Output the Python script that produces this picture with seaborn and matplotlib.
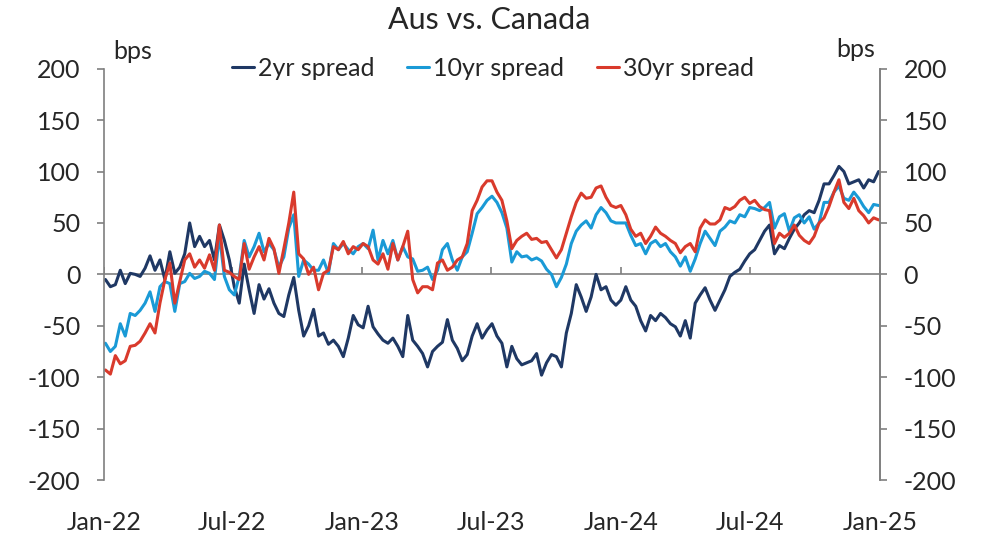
import matplotlib
matplotlib.use("Agg")
import matplotlib.pyplot as plt
import matplotlib.dates as mdates
import seaborn as sns
import pandas as pd

# weekly readings, bps (Aus minus Canada)
spread_2yr = [
    -5, -12, -10, 4, -9, 1, 0, -2, 6, 18, 4, 14, -5, 22, 1, 7, 20, 50, 27, 37,
    27, 33, 14, 48, 33, 14, -12, -28, 10, -15, -38, -10, -24, -14, -28, -38, -41, -20, -3, -35,
    -60, -50, -34, -60, -57, -68, -64, -70, -80, -62, -40, -49, -52, -31, -51, -58, -64, -67, -62, -70,
    -80, -40, -64, -70, -77, -90, -75, -70, -66, -44, -64, -72, -84, -78, -60, -48, -62, -54, -48, -60,
    -67, -90, -70, -82, -88, -86, -84, -77, -98, -86, -78, -80, -90, -57, -38, -10, -22, -36, -22, 0,
    -15, -12, -25, -30, -25, -12, -25, -31, -45, -55, -40, -45, -38, -42, -48, -51, -60, -45, -62, -28,
    -20, -13, -25, -35, -25, -15, -2, 2, 5, 13, 20, 24, 33, 42, 48, 20, 28, 25, 35, 44,
    50, 58, 62, 60, 72, 88, 88, 96, 105, 100, 88, 90, 92, 84, 92, 90, 100,
]
spread_10yr = [
    -67, -75, -70, -48, -60, -38, -40, -35, -28, -17, -36, -12, -7, -9, -36, -9, -7, 1, -4, -2,
    3, 1, -5, 38, -2, -15, -20, -2, 33, 17, 27, 40, 22, 30, 24, 7, 17, 45, 58, -2,
    14, 10, 4, 4, 14, 1, 30, 24, 30, 24, 20, 27, 30, 25, 43, 14, 33, 20, 33, 14,
    27, 17, 15, 3, 4, 7, -5, 4, 24, 30, 14, 4, 17, 22, 40, 59, 65, 72, 76, 70,
    60, 45, 12, 22, 17, 18, 14, 16, 13, 5, 0, -12, -3, 10, 30, 42, 48, 52, 45, 58,
    65, 60, 52, 50, 50, 50, 38, 28, 30, 20, 30, 33, 27, 30, 22, 17, 8, 17, 3, 15,
    30, 42, 35, 28, 42, 46, 52, 50, 58, 56, 65, 64, 62, 65, 70, 45, 56, 59, 42, 55,
    58, 50, 56, 44, 50, 70, 70, 80, 86, 74, 72, 80, 74, 66, 60, 68, 67,
]
spread_30yr = [
    -93, -97, -79, -87, -84, -70, -69, -65, -57, -48, -57, -28, -5, 11, -28, -7, 14, 20, 7, 14,
    6, 19, 4, 48, 4, 2, -2, -5, 30, 5, 17, 27, 14, 35, 25, 1, 25, 50, 80, 20,
    15, 0, 7, -15, 1, 4, 27, 24, 32, 20, 27, 24, 30, 27, 14, 10, 20, 5, 30, 14,
    27, 42, -5, -18, -12, -12, -15, 11, 14, 4, 7, 14, 17, 30, 62, 72, 85, 91, 91, 80,
    72, 52, 25, 33, 37, 40, 34, 35, 31, 32, 24, 16, 24, 40, 56, 70, 79, 74, 75, 84,
    86, 75, 67, 65, 67, 58, 44, 37, 40, 30, 37, 46, 40, 37, 33, 30, 21, 27, 30, 22,
    45, 53, 49, 49, 53, 65, 63, 66, 72, 75, 69, 72, 66, 63, 62, 30, 40, 36, 40, 48,
    38, 33, 30, 37, 50, 55, 66, 80, 92, 70, 64, 74, 62, 57, 50, 55, 53,
]
dates = pd.date_range("2022-01-03", periods=len(spread_2yr), freq="7D")

series_names = ["2yr spread", "10yr spread", "30yr spread"]
series_colors = ["#1F3864", "#1A9AD6", "#D93A2C"]
y_ticks = list(range(-200, 201, 50))

df = pd.DataFrame({
    "date": dates,
    "2yr spread": spread_2yr,
    "10yr spread": spread_10yr,
    "30yr spread": spread_30yr,
})
long_df = df.melt(id_vars="date", var_name="series", value_name="bps")

sns.set_style("white")
plt.rcParams["font.family"] = ["Lato", "DejaVu Sans"]
plt.rcParams["axes.unicode_minus"] = False

fig = plt.figure(figsize=(9.84, 5.34), dpi=100)
ax = fig.add_axes([0.1057, 0.1011, 0.7886, 0.7702])

sns.lineplot(data=long_df, x="date", y="bps", hue="series", hue_order=series_names,
             palette=dict(zip(series_names, series_colors)), linewidth=2.2, ax=ax)

axis_grey = "#7F7F7F"
ax.set_xlim(pd.Timestamp("2022-01-01"), pd.Timestamp("2025-01-01"))
ax.set_ylim(-200, 200)
ax.set_yticks(y_ticks)
ax.set_xlabel("")
ax.set_ylabel("")

# zero line acts as the x axis, ticks drawn up from it
ax.axhline(0, color=axis_grey, linewidth=1.2, zorder=1)
ax.xaxis.set_major_locator(mdates.MonthLocator(bymonth=[1, 7]))
ax.xaxis.set_major_formatter(mdates.DateFormatter("%b-%y"))
ax.tick_params(axis="x", length=0, pad=22, labelsize=18)
for t in ax.get_xticks():
    ax.vlines(t, 0, 7, color=axis_grey, linewidth=1.2, zorder=1)

for side in ["top", "bottom"]:
    ax.spines[side].set_visible(False)
for side in ["left", "right"]:
    ax.spines[side].set_color(axis_grey)
    ax.spines[side].set_linewidth(1.2)
ax.tick_params(axis="y", direction="out", length=5, width=1.2, color=axis_grey,
               pad=12, labelsize=18, left=True)

ax2 = ax.twinx()
ax2.set_ylim(-200, 200)
ax2.set_yticks(y_ticks)
ax2.tick_params(axis="y", direction="out", length=5, width=1.2, color=axis_grey,
                pad=12, labelsize=18, right=True)
for side in ["top", "bottom", "left"]:
    ax2.spines[side].set_visible(False)
ax2.spines["right"].set_color(axis_grey)
ax2.spines["right"].set_linewidth(1.2)

ax.text(0.012, 1.042, "bps", transform=ax.transAxes, ha="left", va="center", fontsize=18)
ax.text(0.994, 1.046, "bps", transform=ax.transAxes, ha="right", va="center", fontsize=18)

handles, labels = ax.get_legend_handles_labels()
ax.legend(handles, labels, loc="center", bbox_to_anchor=(0.501, 1.0), ncol=3,
          frameon=False, fontsize=18, handlelength=0.9, handletextpad=0.15,
          columnspacing=1.3, borderaxespad=0)

fig.text(0.497, 0.962, "Aus vs. Canada", ha="center", va="center", fontsize=22)

fig.savefig("out.png", dpi=100)
